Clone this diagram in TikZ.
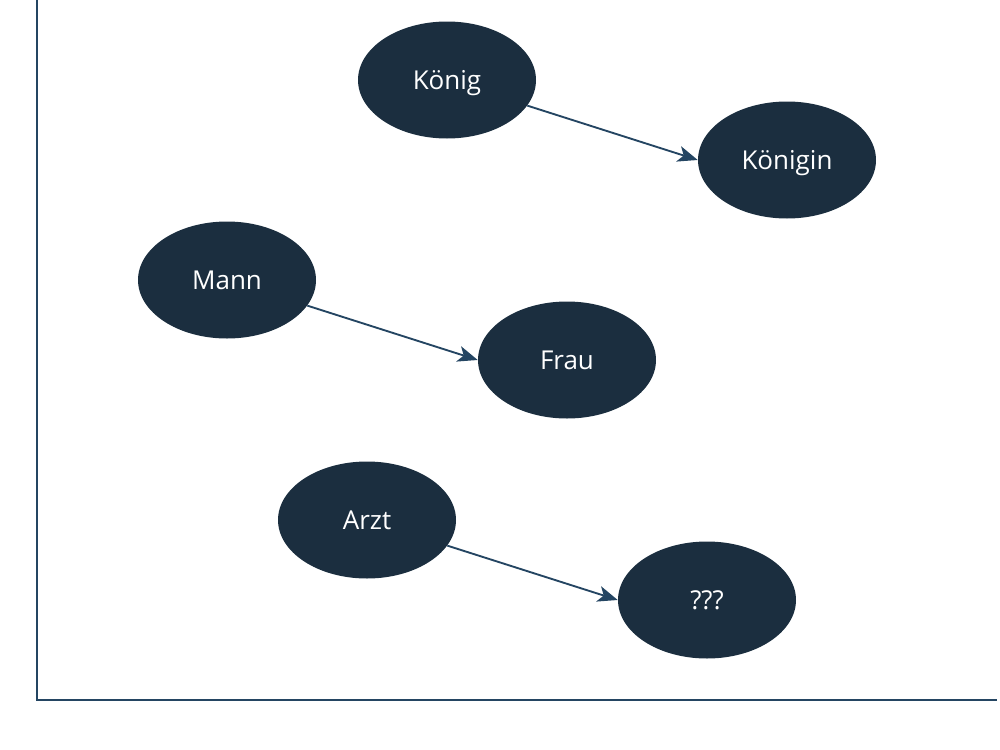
\documentclass[tikz,border=0pt]{standalone}
\usepackage{fontspec}
\setmainfont{Open Sans}
\usetikzlibrary{arrows.meta,shapes.geometric}
\definecolor{nodefill}{HTML}{1B2E3F}
\definecolor{linecol}{HTML}{244562}
\tikzset{
  word/.style={ellipse, fill=nodefill, text=white, minimum width=178*0.75pt, minimum height=117*0.75pt, inner sep=0pt, text depth=0pt, font=\fontsize{19.5}{23}\selectfont},
  rel/.style={draw=linecol, line width=1.4pt, -{Stealth[length=15pt,width=12pt,inset=4pt]}},
  axis/.style={draw=linecol, line width=1.4pt}
}
\begin{document}
\begin{tikzpicture}[x=0.75pt,y=-0.75pt]
\useasboundingbox (0,0) rectangle (1000,750);
\coordinate (ytop) at (37,0);
\coordinate (origin) at (37,700);
\coordinate (xend) at (997,700);
\draw[axis] (ytop) -- (origin) -- (xend);
\node[word] (konig) at (447,80) {König};
\node[word] (konigin) at (787,160) {Königin};
\node[word] (mann) at (227,280) {Mann};
\node[word] (frau) at (567,360) {Frau};
\node[word] (arzt) at (367,520) {Arzt};
\node[word] (q) at (707,600) {???};
\draw[rel] (konig) -- (konigin.west);
\draw[rel] (mann) -- (frau.west);
\draw[rel] (arzt) -- (q.west);
\end{tikzpicture}
\end{document}
